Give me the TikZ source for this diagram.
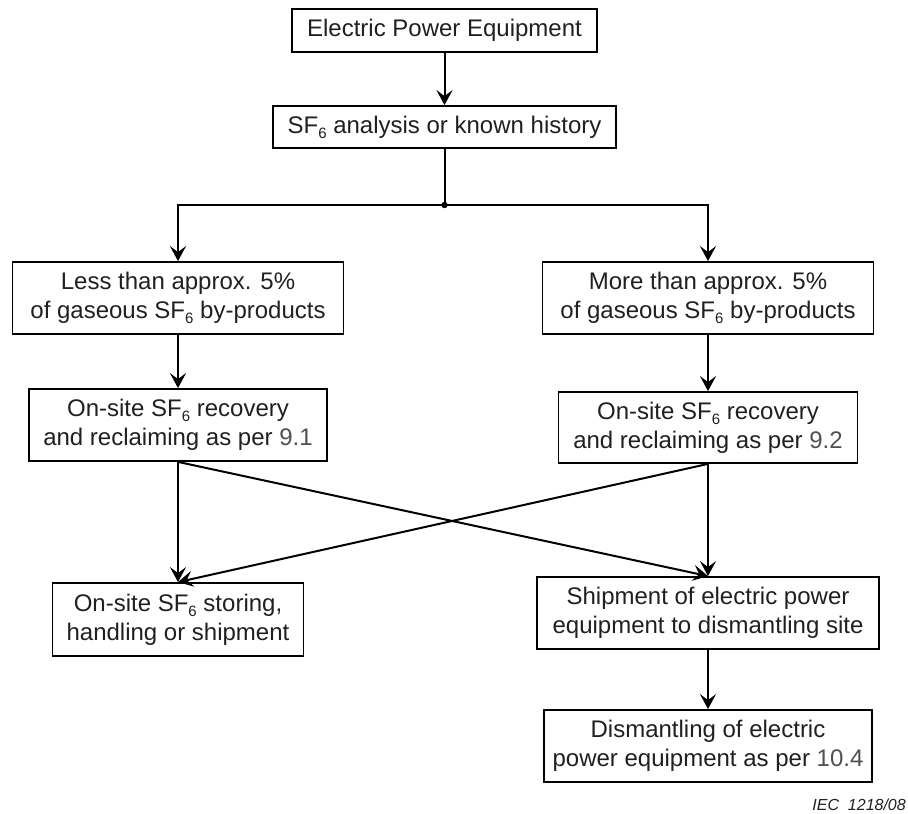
\documentclass[tikz,border=0pt]{standalone}
\usepackage{fontspec}
\setmainfont{Liberation Sans}
\usetikzlibrary{arrows.meta}
\definecolor{txt}{RGB}{35,31,32}
\definecolor{ref}{RGB}{80,80,80}
\newcommand{\sfsix}{SF\raisebox{-5pt}{\fontsize{15}{15}\selectfont 6}}
\tikzset{
  box/.style={draw=black, line width=1.8pt, fill=white, inner sep=0pt, align=center,
    text=txt, font=\fontsize{24}{29}\selectfont},
  arr/.style={draw=black, line width=2pt, -{Stealth[length=15pt,width=16pt,inset=6pt]}},
  ln/.style={draw=black, line width=2pt}
}
\begin{document}
\begin{tikzpicture}[x=1pt,y=-1pt]
\useasboundingbox (0,0) rectangle (908,814);
\node[box, minimum width=305pt, minimum height=43pt] (n1) at (444.5,30.5) {Electric Power Equipment};
\node[box, minimum width=343pt, minimum height=42pt] (n2) at (444.5,127) {\sfsix{} analysis or known history};
\coordinate (j) at (444.5,205);
\node[box, minimum width=331pt, minimum height=72pt] (n3) at (178,298) {Less than approx. 5\%\\of gaseous \sfsix{} by-products};
\node[box, minimum width=331pt, minimum height=72pt] (n4) at (708,298) {More than approx. 5\%\\of gaseous \sfsix{} by-products};
\node[box, minimum width=298pt, minimum height=72pt] (n5) at (178,425) {On-site \sfsix{} recovery\\and reclaiming as per {\color{ref}9.1}};
\node[box, minimum width=299pt, minimum height=71pt] (n6) at (708,427.5) {On-site \sfsix{} recovery\\and reclaiming as per {\color{ref}9.2}};
\node[box, minimum width=251pt, minimum height=73pt] (n7) at (178,619.5) {On-site \sfsix{} storing,\\handling or shipment};
\node[box, minimum width=342pt, minimum height=72pt] (n8) at (708,613) {Shipment of electric power\\equipment to dismantling site};
\node[box, minimum width=328pt, minimum height=72pt] (n9) at (708,746) {Dismantling of electric\\power equipment as per {\color{ref}10.4}};
\node[anchor=east, inner sep=0pt, text=txt, font=\fontsize{16}{19}\selectfont\itshape] (cap) at (906,805) {IEC\ \ 1218/08};
\draw[arr] (n1.south) -- (n2.north);
\draw[ln] (n2.south) -- (j);
\fill (j) circle (3.2pt);
\draw[arr] (j) -| (n3.north);
\draw[arr] (j) -| (n4.north);
\draw[arr] (n3.south) -- (n5.north);
\draw[arr] (n4.south) -- (n6.north);
\draw[arr] (n5.south) -- (n7.north);
\draw[arr] (n6.south) -- (n8.north);
\draw[arr] (n5.south) -- (n8.north);
\draw[arr] (n6.south) -- (n7.north);
\draw[arr] (n8.south) -- (n9.north);
\end{tikzpicture}
\end{document}
